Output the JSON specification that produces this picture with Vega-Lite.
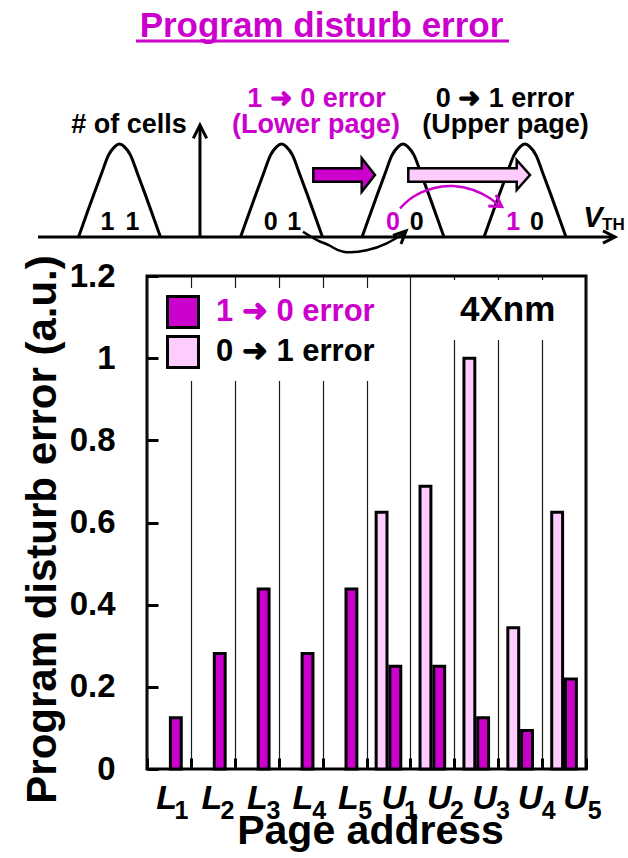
{
  "$schema": "https://vega.github.io/schema/vega-lite/v6.json",
  "width": 439,
  "height": 493,
  "autosize": {"type": "none"},
  "padding": {"left": 147, "top": 276, "right": 42, "bottom": 89},
  "background": "white",
  "config": {
    "view": {"stroke": "black", "strokeWidth": 3},
    "font": "Liberation Sans",
    "text": {"font": "Liberation Sans", "fontWeight": "bold"}
  },
  "datasets": {
    "bars": [
      {"page": "L1", "err": "1 ➜ 0 error", "v": 0.125},
      {"page": "L2", "err": "1 ➜ 0 error", "v": 0.281},
      {"page": "L3", "err": "1 ➜ 0 error", "v": 0.438},
      {"page": "L4", "err": "1 ➜ 0 error", "v": 0.281},
      {"page": "L5", "err": "1 ➜ 0 error", "v": 0.438},
      {"page": "U1", "err": "0 ➜ 1 error", "v": 0.625},
      {"page": "U1", "err": "1 ➜ 0 error", "v": 0.25},
      {"page": "U2", "err": "0 ➜ 1 error", "v": 0.688},
      {"page": "U2", "err": "1 ➜ 0 error", "v": 0.25},
      {"page": "U3", "err": "0 ➜ 1 error", "v": 1.0},
      {"page": "U3", "err": "1 ➜ 0 error", "v": 0.125},
      {"page": "U4", "err": "0 ➜ 1 error", "v": 0.344},
      {"page": "U4", "err": "1 ➜ 0 error", "v": 0.094},
      {"page": "U5", "err": "0 ➜ 1 error", "v": 0.625},
      {"page": "U5", "err": "1 ➜ 0 error", "v": 0.219}
    ],
    "humps": [
      {"k": "11", "sx": 0.830, "sy": 0}, {"k": "11", "sx": 0.949, "sy": 0.21}, {"k": "11", "sx": 1.086, "sy": 0.45}, {"k": "11", "sx": 1.222, "sy": 0.68}, {"k": "11", "sx": 1.342, "sy": 0.88}, {"k": "11", "sx": 1.445, "sy": 0.97}, {"k": "11", "sx": 1.530, "sy": 1}, {"k": "11", "sx": 1.615, "sy": 0.97}, {"k": "11", "sx": 1.718, "sy": 0.88}, {"k": "11", "sx": 1.838, "sy": 0.68}, {"k": "11", "sx": 1.974, "sy": 0.45}, {"k": "11", "sx": 2.111, "sy": 0.21}, {"k": "11", "sx": 2.230, "sy": 0},
      {"k": "01", "sx": 3.598, "sy": 0}, {"k": "01", "sx": 3.717, "sy": 0.21}, {"k": "01", "sx": 3.854, "sy": 0.45}, {"k": "01", "sx": 3.990, "sy": 0.68}, {"k": "01", "sx": 4.110, "sy": 0.88}, {"k": "01", "sx": 4.213, "sy": 0.97}, {"k": "01", "sx": 4.298, "sy": 1}, {"k": "01", "sx": 4.383, "sy": 0.97}, {"k": "01", "sx": 4.486, "sy": 0.88}, {"k": "01", "sx": 4.606, "sy": 0.68}, {"k": "01", "sx": 4.742, "sy": 0.45}, {"k": "01", "sx": 4.879, "sy": 0.21}, {"k": "01", "sx": 4.998, "sy": 0},
      {"k": "00", "sx": 5.674, "sy": 0}, {"k": "00", "sx": 5.793, "sy": 0.21}, {"k": "00", "sx": 5.930, "sy": 0.45}, {"k": "00", "sx": 6.066, "sy": 0.68}, {"k": "00", "sx": 6.186, "sy": 0.88}, {"k": "00", "sx": 6.289, "sy": 0.97}, {"k": "00", "sx": 6.374, "sy": 1}, {"k": "00", "sx": 6.459, "sy": 0.97}, {"k": "00", "sx": 6.562, "sy": 0.88}, {"k": "00", "sx": 6.682, "sy": 0.68}, {"k": "00", "sx": 6.818, "sy": 0.45}, {"k": "00", "sx": 6.955, "sy": 0.21}, {"k": "00", "sx": 7.074, "sy": 0},
      {"k": "10", "sx": 7.758, "sy": 0}, {"k": "10", "sx": 7.877, "sy": 0.21}, {"k": "10", "sx": 8.014, "sy": 0.45}, {"k": "10", "sx": 8.150, "sy": 0.68}, {"k": "10", "sx": 8.270, "sy": 0.88}, {"k": "10", "sx": 8.373, "sy": 0.97}, {"k": "10", "sx": 8.458, "sy": 1}, {"k": "10", "sx": 8.543, "sy": 0.97}, {"k": "10", "sx": 8.646, "sy": 0.88}, {"k": "10", "sx": 8.766, "sy": 0.68}, {"k": "10", "sx": 8.902, "sy": 0.45}, {"k": "10", "sx": 9.039, "sy": 0.21}, {"k": "10", "sx": 9.158, "sy": 0}
    ],
    "blocks": [
      {"err": "1 ➜ 0 error", "sx": 4.841, "sy": 0.739, "sy2": 0.595},
      {"err": "1 ➜ 0 error", "sx": 5.668, "sy": 0.739, "sy2": 0.595},
      {"err": "1 ➜ 0 error", "sx": 5.6681, "sy": 0.849, "sy2": 0.484},
      {"err": "1 ➜ 0 error", "sx": 5.895, "sy": 0.667, "sy2": 0.667},
      {"err": "0 ➜ 1 error", "sx": 6.464, "sy": 0.739, "sy2": 0.595},
      {"err": "0 ➜ 1 error", "sx": 8.316, "sy": 0.739, "sy2": 0.595},
      {"err": "0 ➜ 1 error", "sx": 8.3161, "sy": 0.828, "sy2": 0.505},
      {"err": "0 ➜ 1 error", "sx": 8.543, "sy": 0.667, "sy2": 0.667}
    ],
    "curves": [
      {"k": "down", "hi": false, "sx": 4.665, "sy": 0.057},
      {"k": "down", "hi": false, "sx": 4.921, "sy": -0.038},
      {"k": "down", "hi": false, "sx": 5.126, "sy": -0.094},
      {"k": "down", "hi": false, "sx": 5.354, "sy": -0.158},
      {"k": "down", "hi": false, "sx": 5.753, "sy": -0.143},
      {"k": "down", "hi": false, "sx": 6.095, "sy": -0.068},
      {"k": "down", "hi": false, "sx": 6.379, "sy": 0.032},
      {"k": "up", "hi": true, "sx": 6.322, "sy": 0.309},
      {"k": "up", "hi": true, "sx": 6.550, "sy": 0.433},
      {"k": "up", "hi": true, "sx": 6.891, "sy": 0.524},
      {"k": "up", "hi": true, "sx": 7.233, "sy": 0.548},
      {"k": "up", "hi": true, "sx": 7.575, "sy": 0.505},
      {"k": "up", "hi": true, "sx": 7.860, "sy": 0.416},
      {"k": "up", "hi": true, "sx": 8.031, "sy": 0.326}
    ],
    "lines": [
      {"k": "vth", "hi": false, "i": 0, "sx": 0.138, "sy": 0},
      {"k": "vth", "hi": false, "i": 1, "sx": 9.995, "sy": 0},
      {"k": "vthHead", "hi": false, "i": 0, "sx": 9.790, "sy": 0.065},
      {"k": "vthHead", "hi": false, "i": 1, "sx": 9.995, "sy": 0},
      {"k": "vthHead", "hi": false, "i": 2, "sx": 9.790, "sy": -0.065},
      {"k": "cells", "hi": false, "i": 0, "sx": 2.905, "sy": 0},
      {"k": "cells", "hi": false, "i": 1, "sx": 2.905, "sy": 1.204},
      {"k": "cellsHead", "hi": false, "i": 0, "sx": 2.791, "sy": 1.061},
      {"k": "cellsHead", "hi": false, "i": 1, "sx": 2.905, "sy": 1.204},
      {"k": "cellsHead", "hi": false, "i": 2, "sx": 3.020, "sy": 1.061},
      {"k": "downHead", "hi": false, "i": 0, "sx": 6.203, "sy": 0.016},
      {"k": "downHead", "hi": false, "i": 1, "sx": 6.425, "sy": 0.065},
      {"k": "downHead", "hi": false, "i": 2, "sx": 6.339, "sy": -0.075},
      {"k": "upHead", "hi": true, "i": 0, "sx": 7.831, "sy": 0.333},
      {"k": "upHead", "hi": true, "i": 1, "sx": 8.060, "sy": 0.326},
      {"k": "upHead", "hi": true, "i": 2, "sx": 7.963, "sy": 0.452},
      {"k": "underline", "hi": true, "i": 0, "sx": 1.812, "sy": 2.108},
      {"k": "underline", "hi": true, "i": 1, "sx": 8.185, "sy": 2.108}
    ],
    "texts": [
      {"role": "title", "t": "Program disturb error", "hi": true, "sx": 4.981, "sy": 2.151},
      {"role": "head", "t": "# of cells", "hi": false, "sx": 1.692, "sy": 1.115},
      {"role": "head", "t": "1 ➜ 0 error", "hi": true, "sx": 4.896, "sy": 1.401},
      {"role": "head", "t": "(Lower page)", "hi": true, "sx": 4.887, "sy": 1.113},
      {"role": "head", "t": "0 ➜ 1 error", "hi": false, "sx": 8.116, "sy": 1.401},
      {"role": "head", "t": "(Upper page)", "hi": false, "sx": 8.125, "sy": 1.113},
      {"role": "state", "t": "1", "hi": false, "sx": 1.325, "sy": 0.075},
      {"role": "state", "t": "1", "hi": false, "sx": 1.752, "sy": 0.075},
      {"role": "state", "t": "0", "hi": false, "sx": 4.115, "sy": 0.075},
      {"role": "state", "t": "1", "hi": false, "sx": 4.515, "sy": 0.075},
      {"role": "state", "t": "0", "hi": true, "sx": 6.203, "sy": 0.075},
      {"role": "state", "t": "0", "hi": false, "sx": 6.608, "sy": 0.075},
      {"role": "state", "t": "1", "hi": true, "sx": 8.258, "sy": 0.075},
      {"role": "state", "t": "0", "hi": false, "sx": 8.663, "sy": 0.075},
      {"role": "vth", "t": "V", "hi": false, "sx": 9.620, "sy": 0.111},
      {"role": "vsub", "t": "TH", "hi": false, "sx": 9.967, "sy": 0.075}
    ]
  },
  "layer": [
    {
      "data": {"name": "bars"},
      "layer": [
        {
          "mark": {"type": "bar", "stroke": "black", "strokeWidth": 3, "strokeJoin": "miter", "opacity": 1},
          "encoding": {
            "x": {
              "field": "page", "type": "nominal",
              "scale": {"paddingInner": 0, "paddingOuter": 0},
              "axis": {
                "orient": "bottom", "title": "Page address", "tickBand": "extent",
                "grid": true, "gridColor": "#1a1a1a", "gridWidth": 1.2, "gridOpacity": 1,
                "domain": false, "ticks": true, "tickSize": -11, "tickWidth": 3, "tickColor": "black",
                "labels": false,
                "titleFont": "Liberation Sans", "titleFontSize": 41, "titleFontWeight": "bold", "titleColor": "black",
                "titleX": 223, "titleY": 74, "titleBaseline": "alphabetic", "titleAlign": "center"
              }
            },
            "xOffset": {"field": "err", "type": "nominal", "scale": {"domain": ["0 ➜ 1 error", "1 ➜ 0 error"], "paddingInner": 0.21, "paddingOuter": 0.7}},
            "y": {
              "field": "v", "type": "quantitative",
              "scale": {"domain": [0, 1.2], "nice": false},
              "axis": {
                "title": "Program disturb error (a.u.)", "values": [0, 0.2, 0.4, 0.6, 0.8, 1, 1.2], "format": ".1~f",
                "grid": false, "domain": false, "tickSize": -11, "tickWidth": 3, "tickColor": "black",
                "labelFont": "Liberation Sans", "labelFontSize": 33, "labelFontWeight": "bold", "labelColor": "black",
                "labelPadding": 43, "labelBaseline": "middle", "labelFlush": false, "labelOverlap": false,
                "titleFont": "Liberation Sans", "titleFontSize": 42, "titleFontWeight": "bold", "titleColor": "black",
                "titleX": -92, "titleY": 253, "titleAngle": 270, "titleBaseline": "alphabetic", "titleAlign": "center"
              }
            },
            "color": {
              "field": "err", "type": "nominal",
              "scale": {"domain": ["1 ➜ 0 error", "0 ➜ 1 error"], "range": ["#CC00CC", "#FFCCFF"]},
              "legend": {
                "title": null, "orient": "top-left", "offset": 12, "padding": 7, "fillColor": "white",
                "symbolType": "square", "symbolSize": 961, "symbolStrokeColor": "black", "symbolStrokeWidth": 3, "symbolOpacity": 1,
                "labelFont": "Liberation Sans", "labelFontSize": 31, "labelFontWeight": "bold", "labelOffset": 16,
                "rowPadding": -4, "labelLimit": 400,
                "encode": {"labels": {"update": {"fill": {"signal": "datum.value === '1 ➜ 0 error' ? '#CC00CC' : 'black'"}}}}
              }
            }
          }
        },
        {
          "mark": {"type": "text", "text": " "},
          "encoding": {
            "x": {
              "field": "page", "type": "nominal",
              "scale": {"range": [-3.7, 450.7], "paddingInner": 0, "paddingOuter": 0},
              "axis": {
                "orient": "bottom", "title": null, "grid": false, "ticks": false, "domain": false,
                "labelExpr": "substring(datum.value, 0, 1)",
                "labelFont": "Liberation Sans", "labelFontSize": 34, "labelFontWeight": "bold", "labelFontStyle": "italic",
                "labelColor": "black", "labelAngle": 0, "labelAlign": "center", "labelBaseline": "alphabetic", "labelPadding": 39
              }
            },
            "y": {"field": "v", "type": "quantitative"}
          }
        },
        {
          "mark": {"type": "text", "text": " "},
          "encoding": {
            "x": {
              "field": "page", "type": "nominal",
              "scale": {"range": [11.1, 470.1], "paddingInner": 0, "paddingOuter": 0},
              "axis": {
                "orient": "bottom", "title": null, "grid": false, "ticks": false, "domain": false,
                "labelExpr": "substring(datum.value, 1)",
                "labelFont": "Liberation Sans", "labelFontSize": 25, "labelFontWeight": "bold", "labelFontStyle": "normal",
                "labelColor": "black", "labelAngle": 0, "labelAlign": "center", "labelBaseline": "alphabetic", "labelPadding": 49
              }
            },
            "y": {"field": "v", "type": "quantitative"}
          }
        }
      ],
      "resolve": {"scale": {"x": "independent"}, "axis": {"x": "independent"}}
    },
    {
      "encoding": {
        "x": {"field": "sx", "type": "quantitative", "scale": {"domain": [2, 9.5], "nice": false, "zero": false}, "axis": null},
        "y": {"field": "sy", "type": "quantitative", "scale": {"domain": [-5.7204, -0.4194], "nice": false, "zero": false}, "axis": null}
      },
      "layer": [
        {
          "data": {"name": "humps"},
          "mark": {"type": "line", "interpolate": "monotone", "color": "black", "strokeWidth": 3},
          "encoding": {"detail": {"field": "k", "type": "nominal"}}
        },
        {
          "data": {"name": "blocks"},
          "mark": {"type": "area", "orient": "vertical", "stroke": "black", "strokeWidth": 2.5, "strokeJoin": "miter", "opacity": 1},
          "encoding": {
            "y": {"field": "sy", "type": "quantitative", "stack": null},
            "y2": {"field": "sy2"},
            "color": {"field": "err", "type": "nominal", "scale": {"domain": ["1 ➜ 0 error", "0 ➜ 1 error"], "range": ["#CC00CC", "#FFCCFF"]}, "legend": null}
          }
        },
        {
          "data": {"name": "curves"},
          "mark": {"type": "line", "interpolate": "natural", "strokeWidth": 2.5},
          "encoding": {
            "detail": {"field": "k", "type": "nominal"},
            "color": {"condition": {"test": "datum.hi", "value": "#CC00CC"}, "value": "black"}
          }
        },
        {
          "data": {"name": "lines"},
          "mark": {"type": "line", "strokeWidth": 3},
          "encoding": {
            "detail": {"field": "k", "type": "nominal"},
            "order": {"field": "i", "type": "quantitative"},
            "color": {"condition": {"test": "datum.hi", "value": "#CC00CC"}, "value": "black"}
          }
        },
        {
          "data": {"name": "texts"},
          "transform": [{"filter": "datum.role == 'title'"}],
          "mark": {"type": "text", "fontSize": 35, "fontWeight": "bold", "align": "center", "baseline": "alphabetic", "color": "#CC00CC"},
          "encoding": {"text": {"field": "t"}}
        },
        {
          "data": {"name": "texts"},
          "transform": [{"filter": "datum.role == 'head'"}],
          "mark": {"type": "text", "fontSize": 27, "fontWeight": "bold", "align": "center", "baseline": "alphabetic"},
          "encoding": {"text": {"field": "t"}, "color": {"condition": {"test": "datum.hi", "value": "#CC00CC"}, "value": "black"}}
        },
        {
          "data": {"name": "texts"},
          "transform": [{"filter": "datum.role == 'state'"}],
          "mark": {"type": "text", "fontSize": 25, "fontWeight": "bold", "align": "center", "baseline": "alphabetic"},
          "encoding": {"text": {"field": "t"}, "color": {"condition": {"test": "datum.hi", "value": "#CC00CC"}, "value": "black"}}
        },
        {
          "data": {"name": "texts"},
          "transform": [{"filter": "datum.role == 'vth'"}],
          "mark": {"type": "text", "fontSize": 29, "fontWeight": "bold", "fontStyle": "italic", "align": "center", "baseline": "alphabetic", "color": "black"},
          "encoding": {"text": {"field": "t"}}
        },
        {
          "data": {"name": "texts"},
          "transform": [{"filter": "datum.role == 'vsub'"}],
          "mark": {"type": "text", "fontSize": 17, "fontWeight": "bold", "align": "center", "baseline": "alphabetic", "color": "black"},
          "encoding": {"text": {"field": "t"}}
        },
        {
          "data": {"name": "texts"},
          "transform": [{"filter": "datum.role == 'title'"}],
          "mark": {"type": "point", "opacity": 0},
          "encoding": {
            "shape": {
              "datum": "4Xnm", "type": "nominal",
              "legend": {
                "title": null, "orient": "none", "legendX": 266, "legendY": 4, "padding": 12, "fillColor": "white",
                "symbolSize": 0, "symbolOpacity": 0, "symbolStrokeWidth": 0, "labelOffset": 0,
                "labelFont": "Liberation Sans", "labelFontSize": 35, "labelFontWeight": "bold", "labelColor": "black"
              }
            }
          }
        }
      ]
    }
  ],
  "resolve": {"scale": {"x": "independent", "y": "independent"}}
}
